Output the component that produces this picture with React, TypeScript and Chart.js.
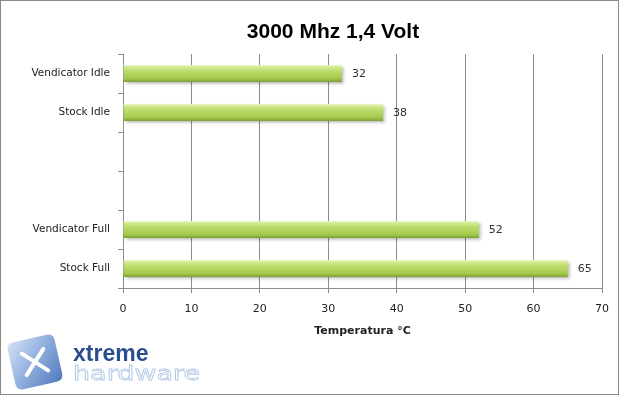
import React, { useEffect, useRef } from "react";
import { Chart, registerables } from "chart.js";

Chart.register(...registerables);

const categories = ["Vendicator Idle", "Stock Idle", "", "", "Vendicator Full", "Stock Full"];
const values: (number | null)[] = [32, 38, null, null, 52, 65];
const xTicks = [0, 10, 20, 30, 40, 50, 60, 70];
const chartTitle = "3000 Mhz 1,4 Volt";
const axisTitle = "Temperatura °C";
const logoTop = "xtreme";
const logoBottom = "hardware";

const FONT = "'DejaVu Sans', sans-serif";

const decorPlugin = {
  id: "decor",
  beforeDraw(chart: any) {
    const ctx = chart.ctx;
    ctx.save();
    ctx.fillStyle = "#ffffff";
    ctx.fillRect(0, 0, chart.width, chart.height);
    ctx.restore();
  },
  beforeDatasetsDraw(chart: any) {
    const ctx = chart.ctx;
    ctx.save();
    ctx.shadowColor = "rgba(0,0,0,0.3)";
    ctx.shadowOffsetX = 2;
    ctx.shadowOffsetY = 2;
    ctx.shadowBlur = 3;
  },
  afterDatasetsDraw(chart: any) {
    const ctx = chart.ctx;
    ctx.restore();
    const meta = chart.getDatasetMeta(0);
    ctx.save();
    ctx.font = `11px ${FONT}`;
    ctx.fillStyle = "#333333";
    ctx.textBaseline = "middle";
    ctx.textAlign = "left";
    meta.data.forEach((el: any, i: number) => {
      const v = values[i];
      if (v == null) return;
      ctx.fillText(String(v), el.x + 10, el.y + 1);
    });
    ctx.restore();
  },
  afterDraw(chart: any) {
    const ctx = chart.ctx;
    const area = chart.chartArea;
    ctx.save();
    ctx.font = `bold 21px 'Liberation Sans', sans-serif`;
    ctx.fillStyle = "#000000";
    ctx.textAlign = "center";
    ctx.textBaseline = "middle";
    ctx.fillText(chartTitle, 333, 32);
    ctx.font = `bold 11px ${FONT}`;
    ctx.fillStyle = "#222222";
    ctx.fillText(axisTitle, (area.left + area.right) / 2, 331);
    ctx.strokeStyle = "#8a8a8a";
    ctx.lineWidth = 1;
    ctx.strokeRect(0.5, 0.5, chart.width - 1, chart.height - 1);

    ctx.save();
    ctx.translate(35, 362);
    ctx.rotate(-0.22);
    const g = ctx.createLinearGradient(-24, -24, 24, 24);
    g.addColorStop(0, "#d6e3f5");
    g.addColorStop(0.45, "#94b2e0");
    g.addColorStop(1, "#4f78bd");
    ctx.fillStyle = g;
    ctx.beginPath();
    const r = 7, s = 24;
    ctx.moveTo(-s + r, -s);
    ctx.lineTo(s - r, -s);
    ctx.quadraticCurveTo(s, -s, s, -s + r);
    ctx.lineTo(s, s - r);
    ctx.quadraticCurveTo(s, s, s - r, s);
    ctx.lineTo(-s + r, s);
    ctx.quadraticCurveTo(-s, s, -s, s - r);
    ctx.lineTo(-s, -s + r);
    ctx.quadraticCurveTo(-s, -s, -s + r, -s);
    ctx.closePath();
    ctx.fill();
    ctx.strokeStyle = "#ffffff";
    ctx.lineWidth = 4;
    ctx.lineCap = "round";
    ctx.beginPath();
    ctx.moveTo(-11, -11);
    ctx.lineTo(11, 11);
    ctx.moveTo(11, -11);
    ctx.lineTo(-11, 11);
    ctx.stroke();
    ctx.restore();

    ctx.textAlign = "left";
    ctx.textBaseline = "alphabetic";
    ctx.font = `bold 23px 'Liberation Sans', sans-serif`;
    ctx.fillStyle = "#2b4d8e";
    ctx.fillText(logoTop, 73, 361);
    ctx.save();
    ctx.translate(73, 380);
    ctx.scale(1.35, 1);
    ctx.font = `20px 'DejaVu Sans', sans-serif`;
    ctx.strokeStyle = "#b3c9e8";
    ctx.lineWidth = 0.8;
    ctx.strokeText(logoBottom, 0, 0);
    ctx.restore();
    ctx.restore();
  },
};

export default function App() {
  const ref = useRef<HTMLCanvasElement | null>(null);

  useEffect(() => {
    document.body.style.margin = "0";
    const canvas = ref.current;
    if (!canvas) return;
    const chart = new Chart(canvas, {
      type: "bar",
      data: {
        labels: categories,
        datasets: [
          {
            data: values as any,
            categoryPercentage: 1,
            barPercentage: 0.44,
            borderWidth: 0,
            backgroundColor: (c: any) => {
              const ch = c.chart;
              const y = ch.scales && ch.scales.y;
              if (!y || c.dataIndex == null) return "#a9cc52";
              const center = y.getPixelForValue(c.dataIndex);
              if (!isFinite(center)) return "#a9cc52";
              const h = 17;
              const grad = ch.ctx.createLinearGradient(0, center - h / 2, 0, center + h / 2);
              grad.addColorStop(0, "#eef8cc");
              grad.addColorStop(0.12, "#d3ea92");
              grad.addColorStop(0.35, "#bcdc6c");
              grad.addColorStop(0.8, "#a3c94c");
              grad.addColorStop(1, "#7d9f33");
              return grad;
            },
          },
        ],
      },
      options: {
        indexAxis: "y",
        responsive: false,
        animation: false,
        layout: { padding: { top: 54, left: 0, right: 17, bottom: 67 } },
        plugins: {
          legend: { display: false },
          title: { display: false },
          tooltip: { enabled: false },
        },
        scales: {
          x: {
            type: "linear",
            min: 0,
            max: 70,
            afterBuildTicks: (s: any) => {
              s.ticks = xTicks.map((v) => ({ value: v }));
            },
            afterFit: (s: any) => {
              s.height = 40;
            },
            grid: { color: "#8c8c8c", tickLength: 5, drawTicks: true, lineWidth: 1 },
            border: { display: true, color: "#8c8c8c" },
            ticks: { color: "#222222", font: { family: FONT, size: 11 }, padding: 10 },
          },
          y: {
            type: "category",
            afterFit: (s: any) => {
              s.width = 123;
            },
            grid: {
              display: true,
              drawOnChartArea: false,
              drawTicks: true,
              tickLength: 5,
              color: "#8c8c8c",
              offset: true,
            },
            border: { display: true, color: "#8c8c8c" },
            ticks: { color: "#222222", font: { family: FONT, size: 10.5 }, padding: 8 },
          },
        },
      },
      plugins: [decorPlugin],
    } as any);
    return () => chart.destroy();
  }, []);

  return (
    <div style={{ width: 619, height: 395 }}>
      <canvas ref={ref} width={619} height={395} style={{ display: "block" }} />
    </div>
  );
}
